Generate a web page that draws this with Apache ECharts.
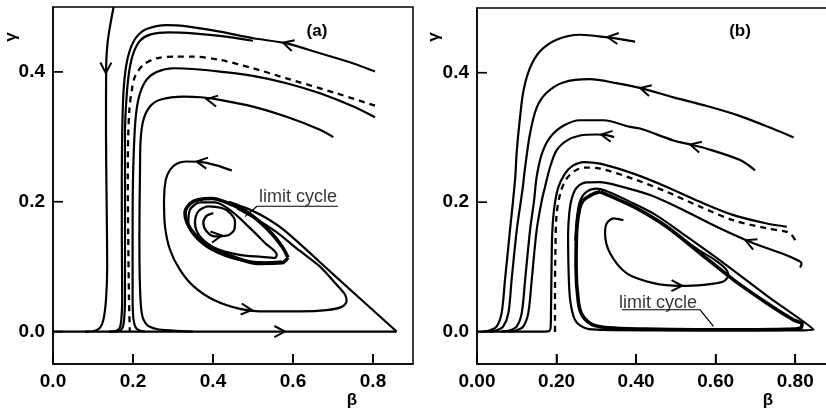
<!DOCTYPE html>
<html><head><meta charset="utf-8">
<script src="https://cdn.jsdelivr.net/npm/echarts@6/dist/echarts.min.js"></script>
<style>html,body{margin:0;padding:0;background:#fff}#c{width:826px;height:413px;background:#fff}</style>
</head><body><div id="c"></div>
<script>
// ---------- axis ranges and tick labels ----------
const xMin = 0, xMax = 0.9, yMin = -0.05, yMax = 0.5;
const xStep = 0.2;
const xTicks = [0.2, 0.4, 0.6, 0.8];
const yTicks = [0, 0.2, 0.4];

// ---------- panel (a) trajectories [beta, gamma] ----------
const aLeft = [[0.1515,0.5],[0.1425,0.47],[0.1365,0.445],[0.133,0.41],[0.1325,0.306],[0.134,0.203],[0.1355,0.10],[0.1325,0.049],[0.126,0.018],[0.1175,0.006],[0.10,0.0005],[0.08,0]];
const aC2 = [[0.805,0.4005],[0.751,0.413],[0.6675,0.4287],[0.584,0.444],[0.5008,0.4518],[0.4175,0.462],[0.326,0.471],[0.284,0.472],[0.234,0.466],[0.209,0.454],[0.1925,0.434],[0.1825,0.408],[0.176,0.367],[0.173,0.306],[0.172,0.234],[0.172,0.15],[0.173,0.05],[0.171,0.02],[0.167,0.006],[0.158,0.001],[0.14,0]];
const aC3 = [[0.50,0.448],[0.4175,0.4555],[0.35,0.4595],[0.29,0.461],[0.2425,0.4575],[0.2175,0.448],[0.201,0.429],[0.191,0.403],[0.184,0.362],[0.18,0.306],[0.18,0.234],[0.18,0.15],[0.18,0.05],[0.178,0.02],[0.174,0.006],[0.165,0.001],[0.15,0]];
const aSep = [[0.805,0.348],[0.709,0.367],[0.584,0.39],[0.5,0.4056],[0.4175,0.4185],[0.35,0.4236],[0.309,0.4236],[0.259,0.421],[0.226,0.411],[0.205,0.393],[0.197,0.372],[0.191,0.342],[0.188,0.3],[0.187,0.234],[0.188,0.15],[0.19,0.05],[0.192,0]];
const aC4 = [[0.805,0.33],[0.751,0.3466],[0.6675,0.367],[0.584,0.3826],[0.5,0.394],[0.4175,0.4005],[0.35,0.4045],[0.301,0.4056],[0.259,0.40],[0.234,0.388],[0.2175,0.367],[0.209,0.342],[0.204,0.306],[0.2,0.234],[0.199,0.15],[0.199,0.05],[0.201,0.02],[0.206,0.007],[0.215,0.002],[0.23,0]];
const aC5 = [[0.701,0.2995],[0.6675,0.311],[0.584,0.331],[0.5,0.3466],[0.4175,0.357],[0.37,0.361],[0.326,0.362],[0.2675,0.357],[0.2425,0.3466],[0.226,0.326],[0.219,0.295],[0.2175,0.248],[0.216,0.15],[0.217,0.08],[0.2217,0.0287],[0.234,0.011],[0.259,0.004],[0.30,0.0015],[0.35,0]];
const aC6 = [[0.447,0.248],[0.409,0.256],[0.3675,0.2615],[0.334,0.262],[0.309,0.2585],[0.2925,0.249],[0.282,0.234],[0.2775,0.203],[0.28,0.162],[0.2925,0.126],[0.3175,0.095],[0.351,0.07],[0.401,0.049],[0.4675,0.035],[0.534,0.031],[0.6175,0.031],[0.684,0.033],[0.722,0.038],[0.734,0.0466],[0.73,0.057],[0.709,0.072],[0.6675,0.1],[0.609,0.128],[0.559,0.153],[0.509,0.173],[0.46,0.19]];
const aBase = [[0,0],[0.859,0]];
const aDiag = [[0.859,0],[0.70,0.0885],[0.58,0.155],[0.53,0.176],[0.4875,0.189],[0.44,0.2]];
const aSpiral = [[0.4008,0.1826],[0.3843,0.1785],[0.3758,0.1672],[0.3843,0.1543],[0.405,0.1466],[0.4343,0.1477],[0.4533,0.1569],[0.455,0.1697],[0.4425,0.1826],[0.4218,0.1903],[0.3883,0.1928],[0.3633,0.1851],[0.355,0.1672],[0.3675,0.1466],[0.405,0.1288],[0.4633,0.1185],[0.5218,0.1149],[0.555,0.1134],[0.5593,0.1185],[0.53,0.1365],[0.4883,0.162],[0.4468,0.1851],[0.405,0.1989],[0.3675,0.1989],[0.3425,0.1877],[0.3383,0.1672],[0.355,0.1466],[0.3968,0.1262],[0.4633,0.1108],[0.53,0.1066],[0.5718,0.1082]];
const aCycle = [[0.5875,0.114],[0.5725,0.131],[0.5375,0.157],[0.4875,0.183],[0.4375,0.198],[0.3975,0.205],[0.3625,0.203],[0.3425,0.197],[0.33,0.183],[0.335,0.168],[0.355,0.149],[0.3975,0.129],[0.455,0.114],[0.5125,0.105],[0.5725,0.106],[0.5875,0.114]];
// arrows: [tipBeta, tipGamma, tailBeta, tailGamma]
const aArrows = [[0.132,0.398,0.1325,0.43],[0.575,0.445,0.62,0.437],[0.384,0.358,0.42,0.354],[0.359,0.262,0.40,0.258],[0.497,0.033,0.45,0.036],[0.58,0,0.54,0],[0.422,0.148,0.40,0.146]];
const aLeader = [[0.7125,0.193],[0.51,0.193],[0.48,0.177]];
const aLabelAt = [[0.6125,0.2065]];

// ---------- panel (b) trajectories ----------
const bC1 = [[0.3975,0.448],[0.36,0.452],[0.33,0.4545],[0.259,0.4587],[0.2,0.451],[0.1585,0.433],[0.133,0.407],[0.1165,0.371],[0.108,0.33],[0.1,0.279],[0.0956,0.234],[0.083,0.157],[0.0704,0.08],[0.062,0.029],[0.0496,0.008],[0.033,0.002],[0.015,0]];
const bC2 = [[0.796,0.30],[0.7455,0.313],[0.6616,0.333],[0.578,0.3485],[0.494,0.362],[0.41,0.3765],[0.35,0.384],[0.284,0.39],[0.217,0.385],[0.175,0.369],[0.15,0.346],[0.133,0.305],[0.121,0.254],[0.1145,0.22],[0.1,0.157],[0.087,0.08],[0.079,0.029],[0.066,0.008],[0.0496,0.002],[0.03,0]];
const bC3 = [[0.699,0.249],[0.6616,0.265],[0.578,0.2826],[0.536,0.2892],[0.494,0.2954],[0.41,0.3138],[0.385,0.3163],[0.318,0.3266],[0.259,0.3266],[0.217,0.318],[0.1836,0.30],[0.163,0.2745],[0.15,0.239],[0.143,0.2],[0.1334,0.157],[0.121,0.08],[0.1125,0.029],[0.1,0.008],[0.083,0.002],[0.06,0]];
const bC4 = [[0.345,0.3005],[0.326,0.3035],[0.301,0.3046],[0.259,0.303],[0.2256,0.295],[0.2,0.28],[0.1836,0.254],[0.171,0.2236],[0.163,0.203],[0.15,0.157],[0.1376,0.08],[0.129,0.029],[0.1165,0.008],[0.1,0.002],[0.08,0]];
const bC5 = [[0.779,0.162],[0.7288,0.167],[0.6448,0.18],[0.561,0.2005],[0.4772,0.2236],[0.3933,0.2441],[0.3094,0.2595],[0.27,0.262],[0.24,0.256],[0.22,0.243],[0.204,0.222],[0.194,0.19],[0.189,0.15],[0.187,0.08],[0.186,0.03],[0.185,0.006],[0.182,0.001],[0.17,0],[0,0]];
const bSep = [[0.80,0.1415],[0.79,0.15],[0.779,0.154],[0.729,0.1595],[0.645,0.172],[0.561,0.193],[0.477,0.216],[0.393,0.236],[0.309,0.252],[0.27,0.2535],[0.245,0.248],[0.225,0.236],[0.21,0.215],[0.2,0.18],[0.197,0.12],[0.196,0.05],[0.196,-0.004]];
const bC6 = [[0.812,0.099],[0.816,0.105],[0.81,0.109],[0.7655,0.121],[0.695,0.1365],[0.6024,0.162],[0.5185,0.188],[0.4352,0.211],[0.3514,0.226],[0.309,0.231],[0.275,0.2305],[0.25,0.222],[0.238,0.205],[0.232,0.183],[0.229,0.15],[0.23,0.10],[0.234,0.05],[0.2465,0.018],[0.27,0.006],[0.30,0.003],[0.45,0.002],[0.65,0.002],[0.80,0.002],[0.846,0.003],[0.73,0.055],[0.62,0.106],[0.52,0.15],[0.45,0.18],[0.39,0.199],[0.33,0.216],[0.30,0.221],[0.275,0.216],[0.26,0.203],[0.252,0.18],[0.247,0.14]];
const bCycle = [[0.31,0.216],[0.3934,0.193],[0.477,0.162],[0.561,0.121],[0.645,0.08],[0.729,0.044],[0.796,0.018],[0.817,0.012],[0.815,0.006],[0.80,0.004],[0.70,0.003],[0.55,0.003],[0.42,0.004],[0.33,0.006],[0.29,0.011],[0.265,0.025],[0.255,0.045],[0.249,0.10],[0.251,0.16],[0.258,0.19],[0.2675,0.203],[0.2926,0.213],[0.31,0.216]];
const bSpiral = [[0.368,0.172],[0.343,0.175],[0.326,0.167],[0.322,0.152],[0.3346,0.121],[0.3766,0.09],[0.4436,0.075],[0.5107,0.0708],[0.569,0.0723],[0.6196,0.0774],[0.632,0.0877],[0.625,0.097],[0.595,0.112],[0.56,0.125],[0.52,0.142]];
const bArrows = [[0.328,0.455,0.365,0.452],[0.41,0.3765,0.45,0.37],[0.312,0.3045,0.345,0.301],[0.536,0.2892,0.575,0.283],[0.675,0.141,0.71,0.132],[0.5157,0.0708,0.48,0.0712]];
const bLeader = [[0.364,0.0338],[0.561,0.0338],[0.5945,0.008]];
const bLabelAt = [[0.4553,0.0446]];

// ---------- build ----------
const FONT = '"Liberation Sans", Arial, sans-serif';
const chart = echarts.init(document.getElementById('c'));

function line(data, gi, width, type) {
  return {type: 'line', xAxisIndex: gi, yAxisIndex: gi, data: data, symbol: 'none',
    smooth: 0.3, silent: true, animation: false,
    lineStyle: {color: '#000', width: width || 2.2, type: type || 'solid'}};
}
function thin(data, gi, w) {
  return {type: 'line', xAxisIndex: gi, yAxisIndex: gi, data: data, symbol: 'none',
    smooth: false, silent: true, animation: false,
    lineStyle: {color: '#000', width: w || 1.2}};
}
function arrows(data, gi) {
  return {type: 'custom', xAxisIndex: gi, yAxisIndex: gi, data: data, silent: true, animation: false,
    renderItem: function (params, api) {
      const tip = api.coord([api.value(0), api.value(1)]);
      const tail = api.coord([api.value(2), api.value(3)]);
      const ang = Math.atan2(tail[1] - tip[1], tail[0] - tip[0]);
      const L = 12, h = 0.48;
      return {type: 'polyline', shape: {points: [
        [tip[0] + L * Math.cos(ang + h), tip[1] + L * Math.sin(ang + h)], tip,
        [tip[0] + L * Math.cos(ang - h), tip[1] + L * Math.sin(ang - h)]]},
        style: {stroke: '#000', lineWidth: 2, fill: null}};
    }};
}
function label(data, gi) {
  return {type: 'scatter', xAxisIndex: gi, yAxisIndex: gi, data: data, symbolSize: 0.1, silent: true,
    itemStyle: {color: 'rgba(0,0,0,0)'}, animation: false,
    label: {show: true, position: 'inside', formatter: 'limit cycle', color: '#000',
      fontSize: 18, fontFamily: FONT}};
}
function xAxis(gi, digits) {
  return {gridIndex: gi, type: 'value', min: xMin, max: xMax, interval: xStep,
    axisLine: {show: true, onZero: false, lineStyle: {color: '#000', width: 1.5}},
    axisTick: {show: true, inside: true, length: 10, lineStyle: {color: '#000', width: 1.6}},
    axisLabel: {show: true, showMaxLabel: false, formatter: v => Number(v).toFixed(digits),
      color: '#000', fontSize: 19, fontWeight: 'bold', fontFamily: FONT, margin: 8},
    splitLine: {show: false}};
}
function isYTick(v) { return yTicks.some(t => Math.abs(t - v) < 1e-6); }
function yAxis(gi) {
  return {gridIndex: gi, type: 'value', min: yMin, max: yMax, interval: 0.05,
    axisLine: {show: true, onZero: false, lineStyle: {color: '#000', width: 1.5}},
    axisTick: {show: false},
    axisLabel: {show: true, formatter: v => isYTick(v) ? Number(v).toFixed(1) : '',
      color: '#000', fontSize: 19, fontWeight: 'bold', fontFamily: FONT, margin: 8},
    splitLine: {show: false}};
}
function txt(x, y, s, size, rot) {
  return {type: 'text', x: x, y: y, rotation: rot || 0, silent: true, z: 100,
    style: {text: s, font: 'bold ' + size + 'px ' + FONT, fill: '#000', textAlign: 'center', textVerticalAlign: 'middle'}};
}

chart.setOption({
  animation: false,
  grid: [
    {left: 53, top: 7, width: 360, height: 357, show: true, borderColor: '#000', borderWidth: 1.5, outerBoundsMode: 'none'},
    {left: 477, top: 8, width: 358, height: 356, show: true, borderColor: '#000', borderWidth: 1.5, outerBoundsMode: 'none'}
  ],
  xAxis: [xAxis(0, 1), xAxis(1, 2)],
  yAxis: [yAxis(0), yAxis(1)],
  series: [
    line(aBase, 0), line(aLeft, 0), line(aC2, 0), line(aC3, 0), line(aSep, 0, 2.3, [6, 5]),
    line(aC4, 0), line(aC5, 0), line(aC6, 0), line(aDiag, 0), line(aSpiral, 0, 2.3),
    line(aCycle, 0, 3.6), arrows(aArrows, 0), thin(aLeader, 0), label(aLabelAt, 0),
    line(bC1, 1), line(bC2, 1), line(bC3, 1), line(bC4, 1), line(bC5, 1), line(bSep, 1, 2.3, [6, 5]),
    line(bC6, 1), line(bCycle, 1, 3.6), line(bSpiral, 1), arrows(bArrows, 1), thin(bLeader, 1), label(bLabelAt, 1)
  ]
});

// inward tick marks placed through the chart's own scales
const gfx = [
  txt(317, 31, '(a)', 17), txt(740, 31, '(b)', 17),
  txt(352, 400, 'β', 17), txt(768, 400, 'β', 17),
  txt(11, 37, 'γ', 17, Math.PI / 2), txt(434, 37, 'γ', 17, Math.PI / 2)
];
[0, 1].forEach(gi => {
  xTicks.forEach(v => {
    const p = chart.convertToPixel({gridIndex: gi}, [v, yMin]);
    gfx.push({type: 'line', z: 100, silent: true,
      shape: {x1: p[0], y1: p[1], x2: p[0], y2: p[1] - 10},
      style: {stroke: '#000', lineWidth: 1.7}});
  });
  yTicks.forEach(v => {
    const p = chart.convertToPixel({gridIndex: gi}, [xMin, v]);
    gfx.push({type: 'line', z: 100, silent: true,
      shape: {x1: p[0], y1: p[1], x2: p[0] + 10, y2: p[1]},
      style: {stroke: '#000', lineWidth: 1.7}});
  });
});
chart.setOption({graphic: gfx});
</script></body></html>
